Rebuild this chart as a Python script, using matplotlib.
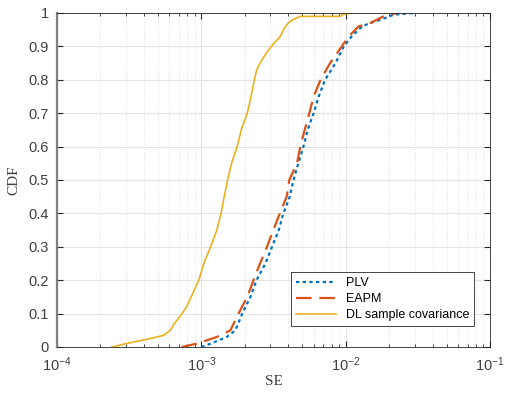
import numpy as np
import matplotlib
matplotlib.use("Agg")
import matplotlib.pyplot as plt
from matplotlib.ticker import LogLocator

cdf_dl = [0.0, 0.01, 0.025, 0.035, 0.05, 0.07, 0.1, 0.12, 0.15, 0.2, 0.25, 0.3, 0.35,
          0.4, 0.45, 0.5, 0.55, 0.6, 0.65, 0.7, 0.75, 0.8, 0.83, 0.86, 0.88, 0.9,
          0.93, 0.95, 0.97, 0.98, 0.99, 0.99, 0.995, 1.0]
se_dl = [2.4e-4, 3.0e-4, 4.4e-4, 5.5e-4, 6.1e-4, 6.5e-4, 7.35e-4, 7.9e-4, 8.5e-4, 9.6e-4,
         1.04e-3, 1.16e-3, 1.28e-3, 1.37e-3, 1.44e-3, 1.52e-3, 1.62e-3, 1.77e-3, 1.89e-3,
         2.08e-3, 2.21e-3, 2.33e-3, 2.42e-3, 2.63e-3, 2.82e-3, 3.05e-3, 3.53e-3, 3.7e-3,
         4.0e-3, 4.3e-3, 4.85e-3, 9.2e-3, 9.5e-3, 1.08e-2]

cdf_plv = [0.0, 0.01, 0.03, 0.05, 0.1, 0.15, 0.2, 0.25, 0.3, 0.35, 0.4, 0.45, 0.5,
           0.55, 0.6, 0.65, 0.7, 0.75, 0.8, 0.85, 0.9, 0.93, 0.96, 0.97, 0.98, 0.995, 1.0]
se_plv = [1.0e-3, 1.16e-3, 1.5e-3, 1.72e-3, 1.92e-3, 2.19e-3, 2.41e-3, 2.78e-3, 3.09e-3,
          3.44e-3, 3.7e-3, 4.1e-3, 4.35e-3, 4.7e-3, 5.1e-3, 5.45e-3, 6.0e-3, 6.5e-3,
          7.2e-3, 8.5e-3, 9.7e-3, 1.1e-2, 1.3e-2, 1.48e-2, 1.75e-2, 2.15e-2, 2.95e-2]

cdf_eapm = [0.0, 0.01, 0.03, 0.05, 0.1, 0.15, 0.2, 0.25, 0.3, 0.35, 0.4, 0.45, 0.5,
            0.55, 0.6, 0.65, 0.7, 0.75, 0.8, 0.85, 0.9, 0.93, 0.96, 0.97, 0.99, 0.995, 1.0]
se_eapm = [7.3e-4, 9.3e-4, 1.28e-3, 1.59e-3, 1.81e-3, 2.08e-3, 2.3e-3, 2.55e-3, 2.85e-3,
           3.15e-3, 3.5e-3, 3.9e-3, 4.07e-3, 4.6e-3, 4.85e-3, 5.2e-3, 5.6e-3, 6.0e-3,
           6.7e-3, 7.8e-3, 9.4e-3, 1.05e-2, 1.23e-2, 1.48e-2, 1.83e-2, 2.0e-2, 2.3e-2]

xticks = [1e-4, 1e-3, 1e-2, 1e-1]
yticks = np.arange(0, 1.01, 0.1)

plt.rcParams["font.family"] = ["Liberation Sans", "DejaVu Sans"]
plt.rcParams["mathtext.fontset"] = "custom"
plt.rcParams["mathtext.rm"] = "Liberation Sans"

fig = plt.figure(figsize=(5.05, 3.93), dpi=100)
ax = fig.add_axes([57 / 505, 46 / 393, 433 / 505, 334 / 393])

ax.plot(se_plv, cdf_plv, linestyle=(0, (1.5, 1.5)), color="#0072BD", lw=1.6, label="PLV")
ax.plot(se_eapm, cdf_eapm, linestyle=(0, (7, 3.5)), color="#D95319", lw=1.6, label="EAPM")
ax.plot(se_dl, cdf_dl, "-", color="#EDB120", lw=1.2, label="DL sample covariance")

ax.set_xscale("log")
ax.set_xlim(1e-4, 1e-1)
ax.set_ylim(0, 1)
ax.set_xticks(xticks)
ax.xaxis.set_minor_locator(LogLocator(base=10, subs=np.arange(2, 10)))
ax.set_yticks(yticks)
ax.set_yticklabels(["0"] + [f"{v:.1f}" for v in yticks[1:-1]] + ["1"])

ax.grid(True, which="major", color="#e3e3e3", lw=0.8)
ax.grid(True, which="minor", axis="x", color="#d8d8d8", lw=0.6, linestyle=(0, (1, 2)))
ax.set_axisbelow(True)

ax.tick_params(which="both", direction="in", top=True, right=True, colors="#262626",
               labelcolor="#404040", labelsize=10.5)
ax.tick_params(which="major", length=4)
ax.tick_params(which="minor", length=2)
ax.tick_params(axis="x", which="major", pad=6)
ax.tick_params(axis="y", which="major", pad=6)
for s in ax.spines.values():
    s.set_color("#262626")
    s.set_linewidth(0.6)
ax.spines["left"].set_color("#808080")
ax.spines["left"].set_linewidth(1.6)

ax.set_xlabel("SE", family=["Liberation Serif"], fontsize=11, color="#404040", labelpad=1)
ax.set_ylabel("CDF", family=["Liberation Serif"], fontsize=11, color="#404040", labelpad=6)

leg = ax.legend(loc="lower right", bbox_to_anchor=(0.963, 0.063), borderaxespad=0,
                fontsize=9, fancybox=False, framealpha=1, edgecolor="#262626",
                handlelength=3.2, handletextpad=0.8, borderpad=0.4, labelspacing=0.3)
leg.get_frame().set_linewidth(0.6)

fig.savefig("out.png", dpi=100)
